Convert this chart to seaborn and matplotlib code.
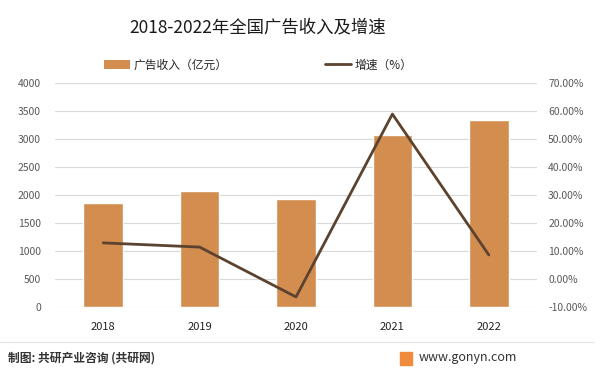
import pandas as pd
import matplotlib
matplotlib.use("Agg")
import matplotlib.pyplot as plt
import seaborn as sns
from matplotlib.patches import Patch, Rectangle
from matplotlib.lines import Line2D
from matplotlib.ticker import FuncFormatter

# data
years = ["2018", "2019", "2020", "2021", "2022"]
revenue = [1860, 2075, 1935, 3070, 3340]      # 广告收入（亿元）
growth = [12.9, 11.4, -6.4, 58.9, 8.6]         # 增速（%）

bar_color = "#D38D4E"
line_color = "#5B4330"
tick_color = "#595959"

sns.set_theme(style="white")
plt.rcParams["font.family"] = ["Noto Sans CJK SC", "DejaVu Sans"]

df = pd.DataFrame({"year": years, "revenue": revenue, "growth": growth})

fig = plt.figure(figsize=(6, 3.77), dpi=100)
ax = fig.add_axes([55 / 600, 1 - 307 / 377, 482 / 600, 224 / 377])

sns.barplot(data=df, x="year", y="revenue", color=bar_color, width=0.41,
            saturation=1, ax=ax)
ax.set_ylim(0, 4000)
ax.set_yticks(range(0, 4001, 500))
ax.yaxis.grid(True, color="#D9D9D9", linewidth=0.8)
ax.set_axisbelow(True)
ax.set_xlabel("")
ax.set_ylabel("")
for s in ax.spines.values():
    s.set_visible(False)
ax.tick_params(axis="y", labelsize=7.5, colors=tick_color, length=0, pad=10)
ax.tick_params(axis="x", labelsize=8, colors="#222222", length=0, pad=11)

ax2 = ax.twinx()
sns.lineplot(data=df, x="year", y="growth", color=line_color, linewidth=2,
             sort=False, ax=ax2)
ax2.set_ylim(-10, 70)
ax2.set_yticks(range(-10, 71, 10))
ax2.yaxis.set_major_formatter(FuncFormatter(lambda v, p: f"{v:.2f}%"))
ax2.set_ylabel("")
for s in ax2.spines.values():
    s.set_visible(False)
ax2.tick_params(axis="y", labelsize=7.5, colors=tick_color, length=0, pad=8)
ax.set_xlim(-0.5, 4.5)

fig.text(0.43, 1 - 27 / 377, "2018-2022年全国广告收入及增速", ha="center", va="center",
         fontsize=12.5, color="#1a1a1a")

handles = [Patch(facecolor=bar_color, edgecolor="none"),
           Line2D([0], [0], color=line_color, linewidth=2)]
fig.legend(handles, ["广告收入（亿元）", "增速（%）"], ncol=2, frameon=False,
           loc="center", bbox_to_anchor=(0.43, 1 - 65 / 377), fontsize=8.5,
           columnspacing=8.3, handlelength=2.2, handletextpad=0.3)

# footer
fig.add_artist(Line2D([0.0, 0.99], [1 - 342 / 377] * 2, color="#E3E3E3",
                      linewidth=0.8, transform=fig.transFigure))
fig.text(8 / 600, 1 - 358 / 377, "制图: 共研产业咨询 (共研网)", ha="left", va="center",
         fontsize=8.5, color="#333333", fontweight="bold")
fig.add_artist(Rectangle((400 / 600, 1 - 365 / 377), 12 / 600, 13 / 377,
                         color="#F08A3C", transform=fig.transFigure))
fig.text(419 / 600, 1 - 357 / 377, "www.gonyn.com", ha="left", va="center",
         fontsize=9, color="#333333")

fig.savefig("out.png", dpi=100)
